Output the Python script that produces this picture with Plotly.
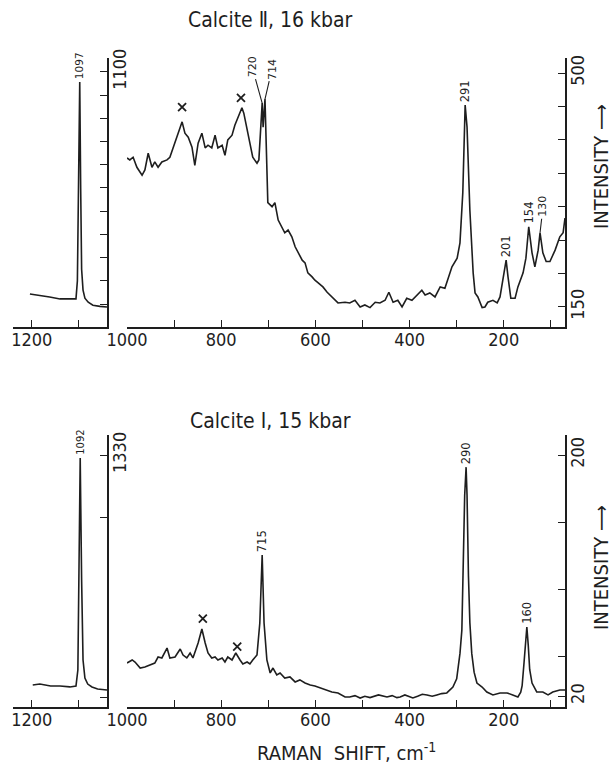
import plotly.graph_objects as go

# ---------------- data ----------------
# Calcite II, 16 kbar  -- inset around the 1097 band
tin_x = [1204, 1183, 1162, 1140, 1119, 1106, 1103, 1101, 1098, 1096, 1094, 1091, 1087, 1080, 1070, 1055, 1040]
tin_y = [143, 135, 130, 122, 122, 122, 200, 600, 1057, 600, 250, 160, 125, 108, 95, 90, 87]

# Calcite II, 16 kbar  -- main spectrum 1000..70 cm-1
top_x = [1000, 994, 987, 979, 968, 962, 955, 947, 941, 934,
         926, 915, 909, 898, 887, 883, 877, 870, 862, 856,
         849, 841, 834, 828, 820, 813, 807, 798, 792, 786,
         777, 771, 764, 756, 752, 745, 739, 733, 724, 720,
         713, 711, 707, 703, 701, 692, 686, 679, 671, 665,
         658, 650, 643, 637, 628, 622, 616, 607, 601, 594,
         584, 575, 569, 563, 552, 537, 527, 516, 505, 495,
         484, 473, 463, 452, 444, 435, 425, 416, 406, 395,
         384, 374, 367, 357, 346, 335, 325, 319, 310, 299,
         293, 287, 282, 278, 272, 265, 261, 255, 246, 240,
         234, 223, 214, 208, 202, 195, 191, 185, 176, 170,
         159, 153, 147, 140, 134, 127, 123, 117, 110, 102,
         91, 81, 74, 70]
top_y = [373, 370, 374, 359, 347, 355, 380, 359, 367, 359,
         367, 370, 374, 395, 419, 427, 410, 404, 389, 362,
         395, 410, 388, 392, 388, 407, 388, 392, 377, 400,
         407, 422, 434, 448, 440, 415, 392, 374, 365, 370,
         455, 419, 461, 350, 306, 300, 306, 280, 270, 261,
         265, 255, 240, 231, 220, 216, 201, 195, 190, 186,
         180, 172, 168, 163, 156, 157, 156, 160, 150, 153,
         149, 157, 156, 160, 172, 157, 160, 150, 163, 160,
         168, 175, 168, 171, 165, 180, 178, 190, 210, 223,
         246, 321, 452, 419, 295, 201, 171, 165, 149, 150,
         157, 160, 156, 165, 190, 220, 195, 163, 163, 180,
         201, 223, 270, 231, 210, 235, 261, 231, 218, 218,
         235, 255, 261, 283]

# Calcite I, 15 kbar -- inset around the 1092 band
bin_x = [1198, 1183, 1160, 1140, 1119, 1106, 1102, 1100, 1097, 1094, 1091, 1087, 1081, 1072, 1060, 1040]
bin_y = [116, 121, 111, 111, 106, 111, 195, 670, 1314, 670, 248, 153, 121, 106, 95, 90]

# Calcite I, 15 kbar -- main spectrum
bot_x = [1000, 989, 983, 972, 962, 951, 941, 934, 926, 915,
         909, 898, 887, 881, 873, 866, 860, 849, 841, 834,
         828, 820, 813, 807, 798, 792, 786, 777, 769, 760,
         754, 745, 739, 733, 724, 718, 713, 709, 703, 696,
         690, 682, 675, 665, 654, 643, 633, 622, 611, 601,
         590, 575, 565, 552, 537, 527, 516, 505, 495, 484,
         466, 448, 437, 427, 420, 410, 393, 383, 373, 363,
         352, 342, 332, 321, 308, 300, 293, 289, 286, 283,
         280, 278, 275, 272, 268, 263, 257, 246, 236, 223,
         208, 193, 181, 170, 164, 161, 157, 154, 151, 148,
         145, 140, 130, 117, 106, 96, 81, 70]
bot_y = [44.8, 47.1, 45.6, 41.1, 41.8, 43.3, 44.8, 49.3, 48.6, 56.0,
         48.6, 49.3, 55.3, 50.8, 48.6, 52.3, 48.6, 59.8, 70.2, 59.8,
         52.3, 48.6, 49.3, 47.1, 48.6, 45.6, 49.3, 47.1, 52.3, 47.1,
         44.1, 45.6, 44.1, 47.1, 50.8, 74.7, 125.4, 74.7, 47.1, 37.4,
         41.1, 35.9, 37.4, 33.6, 34.4, 30.7, 32.2, 29.9, 28.4, 27.7,
         26.2, 24.7, 23.2, 22.5, 19.5, 19.5, 20.5, 18.7, 20.0, 19.0,
         21.0, 19.5, 20.5, 19.0, 19.5, 21.0, 18.7, 20.0, 21.5, 21.0,
         20.0, 21.0, 22.0, 22.5, 26.9, 33.0, 52.0, 69.4, 120, 170,
         191, 170, 110, 75, 52, 38, 29.9, 26.9, 23.2, 21.0,
         22.5, 22.5, 21.0, 19.5, 23, 28, 45, 62, 71.7, 58,
         40, 29.9, 23.2, 23.2, 21.0, 23.2, 24.7, 24.7]

# tick values / labels
inset_xticks = [1200, 1100]
inset_xlabels = ["1200", ""]
main_xticks = [1000, 900, 800, 700, 600, 500, 400, 300, 200, 100]
main_xlabels = ["1000", "", "800", "", "600", "", "400", "", "200", ""]
tin_yticks = [100, 200, 300, 400, 500, 600, 700, 800, 900, 1000, 1100]
tin_ylabels = [""] * 10 + ["1100"]
top_yticks = [150, 200, 250, 300, 350, 400, 450, 500]
top_ylabels = ["150", "", "", "", "", "", "", "500"]
bin_yticks = [50, 1000, 1330]
bin_ylabels = ["", "", "1330"]
bot_yticks = [20, 50, 100, 150, 200]
bot_ylabels = ["20", "", "", "", "200"]

# peak labels: (text, x, y)
tin_peaks = [("1097", 1098, 1057)]
top_peaks = [("291", 282, 452), ("201", 195, 220), ("154", 147, 270)]
bin_peaks = [("1092", 1097, 1314)]
bot_peaks = [("715", 713, 125.4), ("290", 280, 191), ("160", 151, 71.7)]
# "x" marks (bands from a foreign phase)
top_cross_x = [883, 758]
top_cross_y = [449, 463]
bot_cross_x = [839, 766]
bot_cross_y = [78, 57]

# ---------------- figure ----------------
W, H = 612, 771
FONT = "Liberation Sans Narrow, DejaVu Sans Condensed, DejaVu Sans, sans-serif"
SMALL = "DejaVu Sans, sans-serif"
INK = "#1e1e1e"


def px(xp):
    return xp / W


def py(yp):
    return 1 - yp / H


inset_dom = [px(13), px(107)]
main_dom = [px(127), px(565)]
top_dom = [py(327), py(58)]
bot_dom = [py(707), py(435)]

fig = go.Figure()
line = dict(color=INK, width=1.6)
fig.add_trace(go.Scatter(x=tin_x, y=tin_y, mode="lines", line=line, xaxis="x", yaxis="y"))
fig.add_trace(go.Scatter(x=top_x, y=top_y, mode="lines", line=line, xaxis="x2", yaxis="y2"))
fig.add_trace(go.Scatter(x=bin_x, y=bin_y, mode="lines", line=line, xaxis="x3", yaxis="y3"))
fig.add_trace(go.Scatter(x=bot_x, y=bot_y, mode="lines", line=line, xaxis="x4", yaxis="y4"))

cross = dict(symbol="x-thin", size=8, color=INK, line=dict(color=INK, width=1.8))
fig.add_trace(go.Scatter(x=top_cross_x, y=top_cross_y, mode="markers", marker=cross,
                         xaxis="x2", yaxis="y2"))
fig.add_trace(go.Scatter(x=bot_cross_x, y=bot_cross_y, mode="markers", marker=cross,
                         xaxis="x4", yaxis="y4"))

tickfont = dict(family=FONT, size=18, color=INK)
common = dict(showgrid=False, zeroline=False, showline=True, linecolor=INK, linewidth=1.6,
              ticks="inside", ticklen=7, tickwidth=1.4, tickcolor=INK, tickfont=tickfont,
              tickmode="array", fixedrange=True, automargin=False)


def xax(dom, rng, anchor, tv, tt):
    return dict(domain=dom, range=rng, anchor=anchor, tickvals=tv, ticktext=tt,
                ticklabelstandoff=-4, **common)


def yax(dom, rng, anchor, tv, tt):
    return dict(domain=dom, range=rng, anchor=anchor, side="right", tickvals=tv, ticktext=tt,
                tickangle=-90, ticklabelstandoff=-4, **common)


fig.update_layout(
    template="none",
    width=W, height=H, autosize=False,
    margin=dict(l=0, r=0, t=0, b=0, pad=0),
    paper_bgcolor="white", plot_bgcolor="white",
    showlegend=False,
    font=dict(family=FONT, color=INK),
    xaxis=xax(inset_dom, [1240, 1040], "y", inset_xticks, inset_xlabels),
    yaxis=yax(top_dom, [1, 1160], "x", tin_yticks, tin_ylabels),
    xaxis2=xax(main_dom, [1000, 70], "y2", main_xticks, main_xlabels),
    yaxis2=yax(top_dom, [120, 522.5], "x2", top_yticks, top_ylabels),
    xaxis3=xax(inset_dom, [1240, 1040], "y3", inset_xticks, inset_xlabels),
    yaxis3=yax(bot_dom, [0, 1436], "x3", bin_yticks, bin_ylabels),
    xaxis4=xax(main_dom, [1000, 70], "y4", main_xticks, main_xlabels),
    yaxis4=yax(bot_dom, [12, 215], "x4", bot_yticks, bot_ylabels),
)

ann = []


def peak(text, x, y, xr, yr, size=11.5):
    ann.append(dict(text=text, x=x, y=y, xref=xr, yref=yr, showarrow=False,
                    textangle=-90, yanchor="bottom", xanchor="center", yshift=1,
                    font=dict(family=SMALL, size=size, color=INK)))


for t, x, y in tin_peaks:
    peak(t, x, y, "x", "y", size=10.5)
for t, x, y in top_peaks:
    peak(t, x, y, "x2", "y2")
for t, x, y in bin_peaks:
    peak(t, x, y, "x3", "y3", size=10)
for t, x, y in bot_peaks:
    peak(t, x, y, "x4", "y4")

# labelled doublet and weak band with leader lines
for t, x, y, ax, ay in [("720", 713, 455, -10, -36), ("714", 707, 461, 7, -30), ("130", 123, 261, 3, -26)]:
    ann.append(dict(text=t, x=x, y=y, xref="x2", yref="y2", showarrow=True, arrowhead=0,
                    arrowwidth=1.1, arrowcolor=INK, ax=ax, ay=ay, textangle=-90,
                    font=dict(family=SMALL, size=11, color=INK)))


def paper_text(text, xp, yp, size, angle=0):
    ann.append(dict(text=text, x=px(xp), y=py(yp), xref="paper", yref="paper",
                    xanchor="center", yanchor="middle", showarrow=False, textangle=angle,
                    font=dict(family=FONT, size=size, color=INK)))


paper_text("Calcite Ⅱ, 16 kbar", 270, 20, 21)
paper_text("Calcite Ⅰ, 15 kbar", 270, 421, 21)
paper_text("INTENSITY ⟶", 601, 167, 20, -90)
paper_text("INTENSITY ⟶", 601, 568, 20, -90)
paper_text("RAMAN  SHIFT, cm<sup>-1</sup>", 346, 752, 20)

fig.update_layout(annotations=ann)

fig.write_html("out.html")
